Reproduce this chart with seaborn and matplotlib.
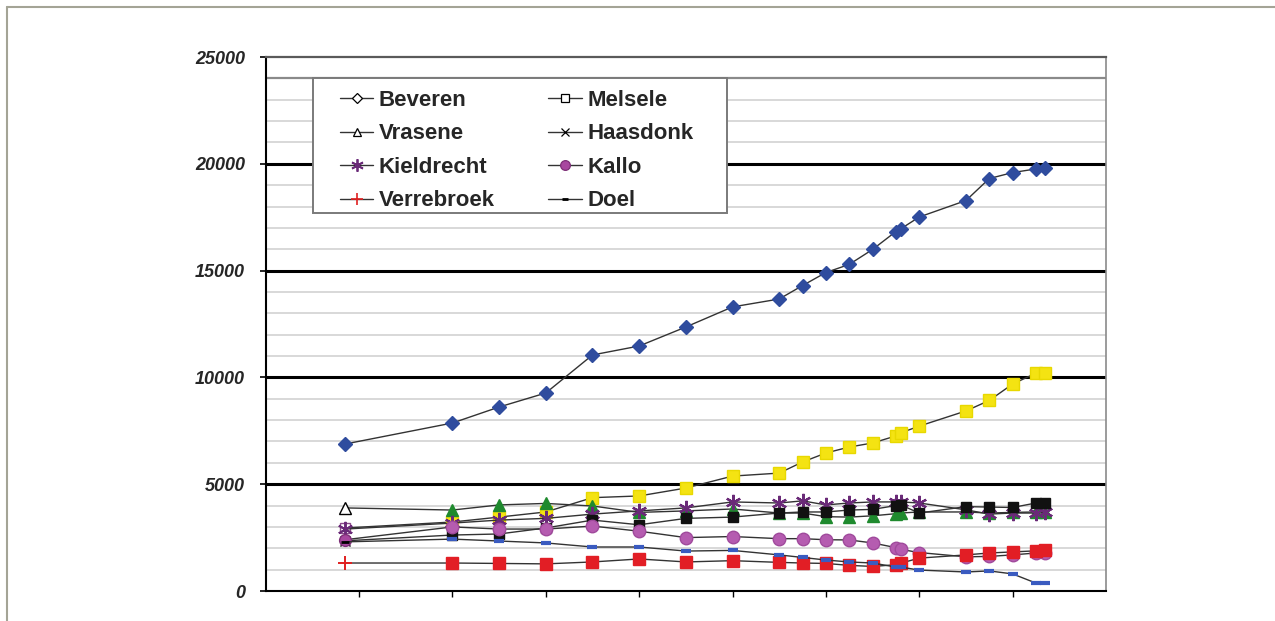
import matplotlib
matplotlib.use("Agg")
import matplotlib.pyplot as plt
from matplotlib.lines import Line2D
from matplotlib.patches import Rectangle
import seaborn as sns
import pandas as pd

years = [1817, 1840, 1850, 1860, 1870, 1880, 1890, 1900, 1910, 1915, 1920,
         1925, 1930, 1935, 1936, 1940, 1950, 1955, 1960, 1965, 1967]

beveren = [6880, 7865, 8614, 9270, 11050, 11470, 12360, 13300, 13670, 14300, 14910,
           15290, 15990, 16830, 16950, 17510, 18280, 19310, 19590, 19760, 19820]
melsele = [2950, 3230, 3460, 3700, 4370, 4450, 4820, 5380, 5520, 6040, 6460,
           6740, 6930, 7260, 7400, 7720, 8430, 8920, 9690, 10200, 10200]
vrasene = [3890, 3790, 4030, 4100, 3980, 3680, 3750, 3840, 3650, 3650, 3480,
           3460, 3520, 3620, 3650, 3700, 3700, 3650, 3680, 3700, 3700]
haasdonk = [2350, 2620, 2670, 2950, 3320, 3100, 3400, 3460, 3650, 3700, 3700,
            3790, 3820, 4000, 4030, 3650, 3950, 3930, 3910, 4120, 4120]
kieldrecht = [2900, 3180, 3320, 3400, 3600, 3750, 3890, 4170, 4120, 4220, 4030,
              4120, 4170, 4170, 4170, 4120, 3800, 3600, 3650, 3650, 3700]
kallo = [2400, 3000, 2900, 2900, 3040, 2800, 2500, 2550, 2450, 2450, 2400,
         2390, 2250, 2030, 1950, 1800, 1600, 1620, 1690, 1780, 1780]
verrebroek = [1310, 1310, 1290, 1270, 1360, 1500, 1360, 1420, 1340, 1310, 1290,
              1200, 1150, 1230, 1300, 1540, 1690, 1780, 1830, 1880, 1900]
doel = [2300, 2430, 2340, 2250, 2060, 2060, 1870, 1900, 1690, 1570, 1450,
        1360, 1310, 1120, 1120, 980, 890, 940, 800, 370, 370]

series = {
    "Beveren": beveren, "Melsele": melsele, "Vrasene": vrasene, "Haasdonk": haasdonk,
    "Kieldrecht": kieldrecht, "Kallo": kallo, "Verrebroek": verrebroek, "Doel": doel,
}

ASTER = (6, 2, 0)
# chart marker: (marker, face, edge, size, edgewidth)
chart_style = {
    "Beveren": ("D", "#2f4c9e", "#2f4c9e", 7.5, 1),
    "Melsele": ("s", "#f4e312", "#e8d800", 8.5, 1),
    "Vrasene": ("^", "#1f8a2e", "#1f8a2e", 9, 1),
    "Kieldrecht": (ASTER, "#6a2a78", "#6a2a78", 11, 1.6),
    "Haasdonk": ("s", "#111111", "#111111", 7.5, 1),
    "Kallo": ("o", "#b55cb0", "#a04a9c", 9, 1),
    "Verrebroek": ("s", "#e21e25", "#e21e25", 8.5, 1),
    "Doel": ("_", "#3a5bc0", "#3a5bc0", 7, 3),
}
# legend-like marker used for the first point
first_style = {
    "Beveren": ("D", "#2f4c9e", "#2f4c9e", 7.5, 1),
    "Melsele": ("s", "white", "#8a4a8a", 7.5, 1),
    "Vrasene": ("^", "white", "black", 8, 1),
    "Haasdonk": ("x", "black", "black", 7, 1),
    "Kieldrecht": (ASTER, "#6a2a78", "#6a2a78", 11, 1.4),
    "Kallo": ("o", "#a8479f", "#7d2f77", 8.5, 1),
    "Verrebroek": ("+", "#e02020", "#e02020", 10, 1.4),
    "Doel": ("_", "black", "black", 6, 2),
}
# smaller markers shown in the legend
legend_style = {
    "Beveren": ("D", "white", "black", 5.5, 0.9),
    "Melsele": ("s", "white", "black", 5.5, 0.9),
    "Vrasene": ("^", "white", "black", 6, 0.9),
    "Haasdonk": ("x", "black", "black", 5.5, 0.9),
    "Kieldrecht": (ASTER, "#6a2a78", "#6a2a78", 9, 1.3),
    "Kallo": ("o", "#a8479f", "#7d2f77", 7, 0.9),
    "Verrebroek": ("+", "#e02020", "#e02020", 8, 1.2),
    "Doel": ("_", "black", "black", 4.5, 2),
}
draw_order = ["Beveren", "Melsele", "Vrasene", "Kieldrecht", "Haasdonk", "Kallo", "Verrebroek", "Doel"]

df = pd.DataFrame([{"year": y, "place": name, "pop": v}
                   for name, vals in series.items() for y, v in zip(years, vals)])

sns.set_style("white")
plt.rcParams["font.family"] = ["Liberation Sans", "DejaVu Sans"]

fig = plt.figure(figsize=(12.75, 6.21), dpi=100)
ax = fig.add_axes([265.7 / 1275, 30 / 621, 840.3 / 1275, 534 / 621])

# gridlines: light every 1000, heavy black every 5000
for v in range(1000, 25000, 1000):
    if v % 5000 == 0:
        ax.axhline(v, color="black", lw=2.2, zorder=1)
    elif v == 24000:
        ax.axhline(v, color="#8a8a8a", lw=1.6, zorder=1)
    else:
        ax.axhline(v, color="#d6d6d6", lw=1.3, zorder=1)

for i, name in enumerate(draw_order):
    sub = df[df["place"] == name]
    m, fc, ec, ms, mew = chart_style[name]
    first = first_style[name]
    sns.lineplot(data=sub, x="year", y="pop", ax=ax, color="#333333", lw=1,
                 marker=m, markerfacecolor=fc, markeredgecolor=ec, markersize=ms,
                 markeredgewidth=mew, markevery=list(range(1, len(sub))),
                 legend=False, zorder=3 + i)
    ax.plot(sub["year"].iloc[:1], sub["pop"].iloc[:1], ls="none", marker=first[0],
            markerfacecolor=first[1], markeredgecolor=first[2], markersize=first[3],
            markeredgewidth=first[4], zorder=3 + i)

ax.set_xlim(1800, 1980)
ax.set_ylim(0, 25000)
ax.set_xticks(range(1820, 1961, 20))
ax.set_xticklabels([])
ax.set_yticks(range(0, 25001, 5000))
ax.set_yticklabels([str(v) for v in range(0, 25001, 5000)],
                   fontsize=13, fontweight="bold", fontstyle="italic")
ax.tick_params(axis="y", direction="out", length=4, width=1.2, color="black", pad=11, left=True)
ax.tick_params(axis="x", direction="out", length=4, width=1, color="black", bottom=True)
ax.set_xlabel("")
ax.set_ylabel("")

ax.spines["left"].set_color("black")
ax.spines["left"].set_linewidth(1.5)
ax.spines["bottom"].set_color("black")
ax.spines["bottom"].set_linewidth(1.5)
ax.spines["top"].set_color("#5a5a5a")
ax.spines["top"].set_linewidth(1.6)
ax.spines["right"].set_color("#8a8a8a")
ax.spines["right"].set_linewidth(1.2)

# legend box drawn as its own frame, entries placed inside it
x0 = (313 - 265.7) / 840.3
x1 = (727 - 265.7) / 840.3
y0 = (591 - 213) / 534
y1 = (591 - 78) / 534
ax.add_patch(Rectangle((x0, y0), x1 - x0, y1 - y0, transform=ax.transAxes,
                       facecolor="white", edgecolor="#7a7a7a", lw=1.4, zorder=19))

leg_names = ["Beveren", "Vrasene", "Kieldrecht", "Verrebroek",
             "Melsele", "Haasdonk", "Kallo", "Doel"]
handles = []
for name in leg_names:
    m, fc, ec, ms, mew = legend_style[name]
    handles.append(Line2D([0], [0], color="#333333", lw=1, marker=m, markerfacecolor=fc,
                          markeredgecolor=ec, markersize=ms, markeredgewidth=mew))
leg = ax.legend(handles, leg_names, ncol=2, loc="upper left",
                bbox_to_anchor=((340 - 265.7) / 840.3, (591 - 90) / 534),
                borderaxespad=0, borderpad=0, frameon=False,
                prop={"weight": "bold", "size": 16}, handlelength=1.5,
                handletextpad=0.25, columnspacing=2.4, labelspacing=0.56)
leg.set_zorder(20)

# outer frame (cropped on the right and bottom)
fig.add_artist(Line2D([7 / 1275, 7 / 1275], [0, 1 - 7 / 621], color="#a4a496", lw=1.5))
fig.add_artist(Line2D([7 / 1275, 1], [1 - 7 / 621, 1 - 7 / 621], color="#a4a496", lw=1.5))

fig.savefig("out.png", dpi=100)
